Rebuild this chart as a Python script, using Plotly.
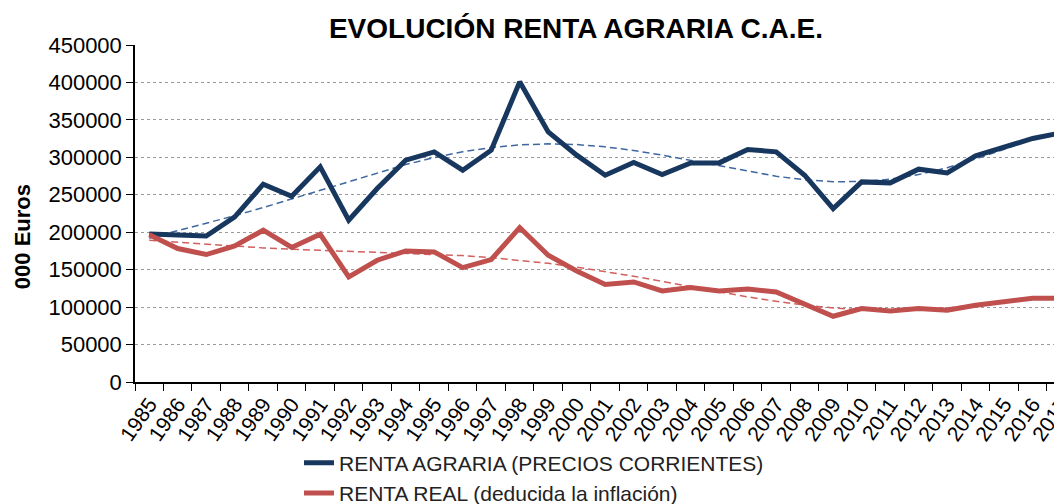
import numpy as np
import plotly.graph_objects as go
from numpy.polynomial import Polynomial

years = [str(y) for y in range(1985, 2018)]

renta_corriente = [197500, 197000, 195000, 220400, 264100, 248100, 287300, 216000,
                   258400, 296200, 307300, 282800, 309500, 400800, 334000, 302900,
                   276100, 293100, 277100, 292600, 292600, 310500, 307300, 276100,
                   231600, 267200, 265900, 284200, 279200, 302000, 313100, 325200,
                   332700]

renta_real = [196500, 178200, 170200, 181700, 202700, 179600, 197300, 140300,
              162600, 175000, 173700, 152800, 163500, 206300, 169300, 148300,
              130100, 133600, 121600, 126100, 121600, 124200, 120200, 103800,
              87800, 98100, 94900, 98100, 95800, 102500, 107800, 111800,
              111800]

name_corriente = "RENTA AGRARIA (PRECIOS CORRIENTES)"
name_real = "RENTA REAL (deducida la inflación)"

BLUE = "#17375E"
RED = "#C0504D"
FONT = "Liberation Sans, Arial, sans-serif"

# polynomial trend lines (order 6), fitted to the series above
idx = np.arange(len(years), dtype=float)
trend_corr = Polynomial.fit(idx, renta_corriente, 6)(idx)
trend_real = Polynomial.fit(idx, renta_real, 6)(idx)

fig = go.Figure()
fig.add_trace(go.Scatter(x=years, y=trend_corr, mode="lines", showlegend=False,
                         line=dict(color="#3F68A0", width=1.5, dash="7px,4px"),
                         hoverinfo="skip"))
fig.add_trace(go.Scatter(x=years, y=trend_real, mode="lines", showlegend=False,
                         line=dict(color="#D0605D", width=1.5, dash="7px,4px"),
                         hoverinfo="skip"))
fig.add_trace(go.Scatter(x=years, y=renta_corriente, mode="lines", name=name_corriente,
                         line=dict(color=BLUE, width=5)))
fig.add_trace(go.Scatter(x=years, y=renta_real, mode="lines", name=name_real,
                         line=dict(color=RED, width=5)))

fig.update_layout(
    width=1062, height=504,
    margin=dict(l=127, r=8, t=37, b=130.3, autoexpand=False),
    paper_bgcolor="white", plot_bgcolor="white",
    font=dict(family=FONT, color="black"),
    title=dict(text="<b>EVOLUCIÓN RENTA AGRARIA C.A.E.</b>",
               x=568 / 1062, xanchor="center", y=1 - 20 / 504, yanchor="middle",
               font=dict(size=28, family=FONT, color="black")),
    legend=dict(orientation="v", x=(299 - 135) / 927, xanchor="left", y=-0.18, yanchor="top",
                font=dict(size=21, family=FONT, color="#222"),
                bgcolor="rgba(0,0,0,0)", tracegroupgap=0),
    showlegend=True,
)

fig.update_xaxes(type="category", range=[-0.5, 32.03], tickson="boundaries",
                 ticks="outside", ticklen=7, tickcolor="black", tickwidth=1,
                 showline=True, linecolor="black", linewidth=1.5,
                 showgrid=False, tickangle=-55, automargin=False,
                 tickfont=dict(size=21, family=FONT, color="black"))
fig.update_yaxes(range=[0, 450000], dtick=50000, tickformat="d",
                 ticks="outside", ticklen=7, tickcolor="black", tickwidth=1,
                 showline=True, linecolor="black", linewidth=1.5,
                 showgrid=True, gridcolor="#9a9a9a", griddash="dot", gridwidth=1,
                 zeroline=False, automargin=False,
                 tickfont=dict(size=22, family=FONT, color="black"))

fig.add_annotation(text="<b>000 Euros</b>", textangle=-90, xref="paper", yref="paper",
                   x=(22 - 135) / 927, y=(381.7 - 237) / 336.7, xanchor="center",
                   yanchor="middle", showarrow=False,
                   font=dict(size=22, family=FONT, color="black"))

fig.write_html("out.html")
